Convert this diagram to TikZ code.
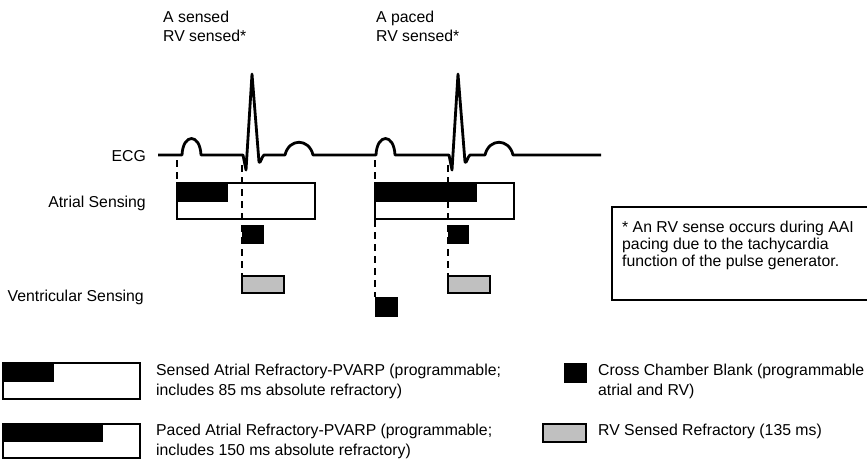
\documentclass[tikz,border=0pt]{standalone}
\usepackage{fontspec}
\setmainfont{Liberation Sans}
\definecolor{rvgray}{RGB}{192,192,192}
\newcommand\lblfont{\fontsize{15.8}{19}\selectfont}
\begin{document}
\begin{tikzpicture}[x=1pt,y=-1pt]
\tikzset{
  ecgline/.style={line width=2.8pt, line join=round},
  rbox/.style={draw, line width=2pt, fill=white, inner sep=0pt, outer sep=0pt, anchor=north west, minimum width=#1, minimum height=36pt},
  ccb/.style={draw, fill=black, line width=0.5pt, inner sep=0pt, outer sep=0pt, anchor=north west, minimum width=21pt, minimum height=18pt},
  rvref/.style={draw, line width=2pt, fill=rvgray, inner sep=0pt, outer sep=0pt, anchor=north west, minimum width=42pt, minimum height=17pt},
  notebox/.style={draw, line width=1.3pt, fill=white, inner sep=0pt, outer sep=0pt, anchor=north west, minimum width=260pt, minimum height=93pt},
  dashline/.style={line width=2.2pt, dash pattern=on 7pt off 5pt},
  lbl/.style={inner sep=0pt, font=\lblfont, anchor=base west},
  lblr/.style={inner sep=0pt, font=\lblfont, anchor=base east},
}
\useasboundingbox (0,0) rectangle (867,459);
\clip (0,0) rectangle (867,459);

% top labels
\node[lbl] (ts1) at (163,22) {A sensed};
\node[lbl] (ts2) at (163,41) {RV sensed*};
\node[lbl] (tp1) at (376,22) {A paced};
\node[lbl] (tp2) at (376,41) {RV sensed*};

% row labels
\node[lblr] (ecglbl) at (146,161) {ECG};
\node[lblr] (atlbl) at (146,207) {Atrial Sensing};
\node[lblr] (vlbl) at (144,301) {Ventricular Sensing};

% ECG trace
\draw[ecgline] (158,155) -- (182,155) .. controls (183,133) and (200,133) .. (201,155)
  -- (243,155) -- (246,170) -- (252,74) -- (259,162) .. controls (260,165) and (262,156) .. (264,155)
  -- (285,155) .. controls (289,138) and (309,138) .. (313,155)
  -- (376,155) .. controls (377,133) and (394,133) .. (395,155)
  -- (449,155) -- (452,170) -- (458,74) -- (465,162) .. controls (466,165) and (468,156) .. (470,155)
  -- (485,155) .. controls (489,138) and (509,138) .. (513,155)
  -- (601,155);

% atrial refractory boxes
\node[rbox=138pt] (a1) at (177,183) {};
\fill (a1.north west) rectangle ++(51,19);
\node[rbox=139pt] (a2) at (375,183) {};
\fill (a2.north west) rectangle ++(102,19);

% cross chamber blanks
\node[ccb] (c1) at (242,225) {};
\node[ccb, minimum width=20pt] (c2) at (448,225) {};

% RV sensed refractory
\node[rvref] (g1) at (242,276) {};
\node[rvref] (g2) at (448,276) {};

% ventricular blank
\node[ccb, minimum width=22pt, minimum height=19pt] (v1) at (375,297) {};

% dashed markers
\coordinate (m1) at (177,160);
\coordinate (m2) at (242,165);
\coordinate (m3) at (375,160);
\coordinate (m4) at (448,165);
\draw[dashline] (m1) -- (a1.north west);
\draw[dashline] (m2) -- (g1.north west);
\draw[dashline] (m3) -- (v1.north west);
\draw[dashline] (m4) -- (g2.north west);

% footnote box
\node[notebox] (nb) at (612,207) {};
\node[lbl] (n1) at (622,232) {* An RV sense occurs during AAI};
\node[lbl] (n2) at (622,249) {pacing due to the tachycardia};
\node[lbl] (n3) at (622,266) {function of the pulse generator.};

% legend
\node[rbox=137pt] (l1) at (3,363) {};
\fill (l1.north west) rectangle ++(51,19);
\node[lbl] (l1a) at (156,375) {Sensed Atrial Refractory-PVARP (programmable;};
\node[lbl] (l1b) at (156,395) {includes 85 ms absolute refractory)};

\node[rbox=137pt, minimum height=34pt] (l2) at (3,424) {};
\fill (l2.north west) rectangle ++(100,18);
\node[lbl] (l2a) at (156,435) {Paced Atrial Refractory-PVARP (programmable;};
\node[lbl] (l2b) at (156,455) {includes 150 ms absolute refractory)};

\node[ccb, minimum width=22pt, minimum height=19pt] (l3) at (564,363) {};
\node[lbl] (l3a) at (598,375) {Cross Chamber Blank (programmable};
\node[lbl] (l3b) at (598,395) {atrial and RV)};

\node[rvref, minimum width=43pt, minimum height=18pt] (l4) at (543,424) {};
\node[lbl] (l4a) at (598,435) {RV Sensed Refractory (135 ms)};
\end{tikzpicture}
\end{document}
